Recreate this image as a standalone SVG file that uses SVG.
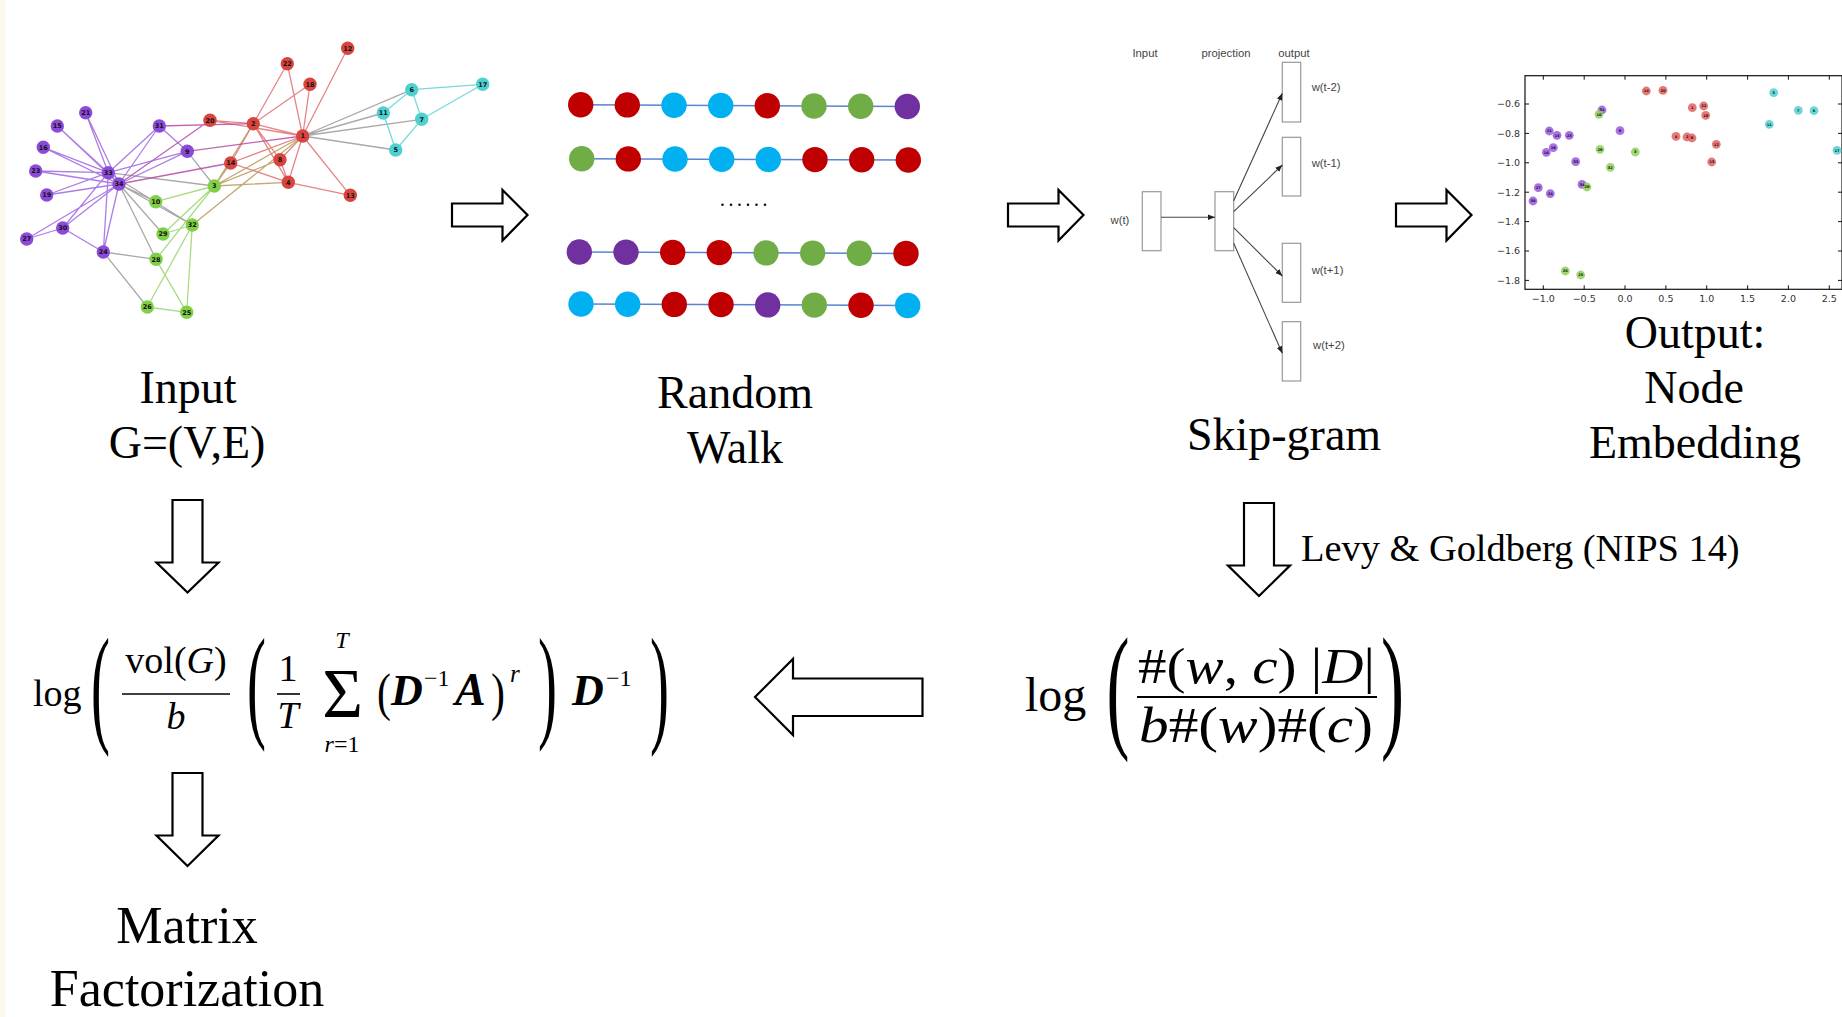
<svg xmlns="http://www.w3.org/2000/svg" width="1842" height="1017" viewBox="0 0 1842 1017">
<defs>
<style>
.serif{font-family:"Liberation Serif","Times New Roman",serif;fill:#000}
.big{font-size:46px;text-anchor:middle}
.blk{fill:#fff;stroke:#000;stroke-width:2.2;stroke-linejoin:miter}
.e{fill:none;stroke-width:1.3;stroke-opacity:0.85}
.er{stroke:#e07070}.eg{stroke:#9a9a9a}.eb{stroke:#b89a5a}.em{stroke:#b64aa5}.ec{stroke:#5fd3d3}.en{stroke:#98d66a}.ep{stroke:#9d66e0}
.kn circle{r:6.7px}
.kl{font-family:"DejaVu Sans",sans-serif;font-size:6.5px;font-weight:bold;text-anchor:middle;fill:#111}
.P{fill:#8c4ad8}.R{fill:#d8453f}.C{fill:#4dd0d0}.G{fill:#7fd047}
.rw{stroke:#5b83d0;stroke-width:1.5}
.wr{fill:#c00000}.wc{fill:#00b0f0}.wg{fill:#70ad47}.wp{fill:#7030a0}
.sg{font-family:"Liberation Sans",Arial,sans-serif;font-size:11.3px;fill:#444}
.box{fill:#fff;stroke:#999;stroke-width:1.2}
.sga{stroke:#444;stroke-width:1.1;fill:none}
.tick{font-family:"DejaVu Sans",sans-serif;font-size:9.5px;fill:#333}
.sp circle{r:4.4px;fill-opacity:0.85}
.spl{font-family:"DejaVu Sans",sans-serif;font-size:3.6px;font-weight:bold;text-anchor:middle;fill:#111}
.SR{fill:#e06060}.SP{fill:#9a58e0}.SG{fill:#8fd05a}.SC{fill:#55d0d0}
.it{font-style:italic}
.bi{font-style:italic;font-weight:bold}
</style>
<marker id="ah" viewBox="0 0 10 10" refX="10" refY="5" markerWidth="7" markerHeight="7" orient="auto" markerUnits="userSpaceOnUse">
<path d="M0,1 L10,5 L0,9 Z" fill="#222"/>
</marker>
</defs>
<rect width="1842" height="1017" fill="#fff"/>
<rect x="0" y="0" width="5" height="1017" fill="#fbf9ee"/>

<!-- Node: Input graph -->
<g id="input-graph">
<g id="graph-edges">
<path class="e er" d="M302.7,136L253.3,123.7M302.7,136L288.3,182.3M302.7,136L280,159.7M302.7,136L347.7,48.3M302.7,136L350.3,195.3M302.7,136L230.7,163M302.7,136L310,84.3M302.7,136L210,120.3M302.7,136L287.3,63.7M253.3,123.7L288.3,182.3M253.3,123.7L280,159.7M253.3,123.7L230.7,163M253.3,123.7L310,84.3M253.3,123.7L210,120.3M253.3,123.7L287.3,63.7M288.3,182.3L280,159.7M288.3,182.3L350.3,195.3M288.3,182.3L230.7,163"/>
<path class="e eg" d="M302.7,136L395.7,150M302.7,136L411.7,89.7M302.7,136L421.7,119.3M302.7,136L383.3,113M214.3,186L187.3,151.3M214.3,186L108.3,172.7M155.7,201.7L119,184M103.3,252L147.3,307M103.3,252L156,259.3M156,259.3L119,184M163,234L119,184M192.3,225L108.3,172.7M192.3,225L119,184"/>
<path class="e eb" d="M302.7,136L214.3,186M302.7,136L192.3,225M253.3,123.7L214.3,186M214.3,186L288.3,182.3M214.3,186L280,159.7M214.3,186L230.7,163"/>
<path class="e em" d="M302.7,136L187.3,151.3M253.3,123.7L159.3,126M230.7,163L119,184M210,120.3L119,184"/>
<path class="e ec" d="M395.7,150L421.7,119.3M395.7,150L383.3,113M411.7,89.7L421.7,119.3M411.7,89.7L383.3,113M411.7,89.7L482.7,84.3M421.7,119.3L482.7,84.3"/>
<path class="e en" d="M214.3,186L155.7,201.7M214.3,186L156,259.3M214.3,186L163,234M186.7,312.3L147.3,307M186.7,312.3L156,259.3M186.7,312.3L192.3,225M147.3,307L192.3,225M163,234L192.3,225"/>
<path class="e ep" d="M187.3,151.3L159.3,126M187.3,151.3L108.3,172.7M187.3,151.3L119,184M57.3,126L108.3,172.7M57.3,126L119,184M43.3,147.3L108.3,172.7M43.3,147.3L119,184M46.7,195L108.3,172.7M46.7,195L119,184M85.7,112.7L108.3,172.7M85.7,112.7L119,184M35.7,171L108.3,172.7M35.7,171L119,184M103.3,252L62.7,228M103.3,252L108.3,172.7M103.3,252L119,184M26.7,239L62.7,228M26.7,239L119,184M62.7,228L108.3,172.7M62.7,228L119,184M159.3,126L108.3,172.7M159.3,126L119,184M108.3,172.7L119,184"/>
</g>
<g class="kn">
<circle class="R" cx="302.7" cy="136"/><circle class="R" cx="253.3" cy="123.7"/><circle class="G" cx="214.3" cy="186"/><circle class="R" cx="288.3" cy="182.3"/><circle class="C" cx="395.7" cy="150"/><circle class="C" cx="411.7" cy="89.7"/><circle class="C" cx="421.7" cy="119.3"/><circle class="R" cx="280" cy="159.7"/><circle class="P" cx="187.3" cy="151.3"/><circle class="G" cx="155.7" cy="201.7"/><circle class="C" cx="383.3" cy="113"/><circle class="R" cx="347.7" cy="48.3"/><circle class="R" cx="350.3" cy="195.3"/><circle class="R" cx="230.7" cy="163"/><circle class="P" cx="57.3" cy="126"/><circle class="P" cx="43.3" cy="147.3"/><circle class="C" cx="482.7" cy="84.3"/><circle class="R" cx="310" cy="84.3"/><circle class="P" cx="46.7" cy="195"/><circle class="R" cx="210" cy="120.3"/><circle class="P" cx="85.7" cy="112.7"/><circle class="R" cx="287.3" cy="63.7"/><circle class="P" cx="35.7" cy="171"/><circle class="P" cx="103.3" cy="252"/><circle class="G" cx="186.7" cy="312.3"/><circle class="G" cx="147.3" cy="307"/><circle class="P" cx="26.7" cy="239"/><circle class="G" cx="156" cy="259.3"/><circle class="G" cx="163" cy="234"/><circle class="P" cx="62.7" cy="228"/><circle class="P" cx="159.3" cy="126"/><circle class="G" cx="192.3" cy="225"/><circle class="P" cx="108.3" cy="172.7"/><circle class="P" cx="119" cy="184"/>
</g>
<g class="kl">
<text x="302.7" y="138.3">1</text><text x="253.3" y="126">2</text><text x="214.3" y="188.3">3</text><text x="288.3" y="184.6">4</text><text x="395.7" y="152.3">5</text><text x="411.7" y="92">6</text><text x="421.7" y="121.6">7</text><text x="280" y="162">8</text><text x="187.3" y="153.6">9</text><text x="155.7" y="204">10</text><text x="383.3" y="115.3">11</text><text x="347.7" y="50.6">12</text><text x="350.3" y="197.6">13</text><text x="230.7" y="165.3">14</text><text x="57.3" y="128.3">15</text><text x="43.3" y="149.6">16</text><text x="482.7" y="86.6">17</text><text x="310" y="86.6">18</text><text x="46.7" y="197.3">19</text><text x="210" y="122.6">20</text><text x="85.7" y="115">21</text><text x="287.3" y="66">22</text><text x="35.7" y="173.3">23</text><text x="103.3" y="254.3">24</text><text x="186.7" y="314.6">25</text><text x="147.3" y="309.3">26</text><text x="26.7" y="241.3">27</text><text x="156" y="261.6">28</text><text x="163" y="236.3">29</text><text x="62.7" y="230.3">30</text><text x="159.3" y="128.3">31</text><text x="192.3" y="227.3">32</text><text x="108.3" y="175">33</text><text x="119" y="186.3">34</text>
</g>
<text class="serif big" x="188" y="403">Input</text>
<text class="serif big" x="187" y="458">G=(V,E)</text>
</g>

<!-- Node: Random walk -->
<g id="random-walk">
<line class="rw" x1="580.7" y1="104.7" x2="907.3" y2="106.5"/>
<line class="rw" x1="581.7" y1="158.7" x2="908.3" y2="160"/>
<line class="rw" x1="579.3" y1="252" x2="906" y2="253.5"/>
<line class="rw" x1="581" y1="304" x2="907.7" y2="305.5"/>
<g>
<circle class="wr" cx="580.7" cy="104.7" r="12.7"/><circle class="wr" cx="627.3" cy="104.9" r="12.7"/><circle class="wc" cx="674" cy="105.2" r="12.7"/><circle class="wc" cx="720.7" cy="105.4" r="12.7"/><circle class="wr" cx="767.3" cy="105.7" r="12.7"/><circle class="wg" cx="814" cy="106" r="12.7"/><circle class="wg" cx="860.7" cy="106.2" r="12.7"/><circle class="wp" cx="907.3" cy="106.5" r="12.7"/>
<circle class="wg" cx="581.7" cy="158.7" r="12.7"/><circle class="wr" cx="628.3" cy="158.9" r="12.7"/><circle class="wc" cx="675" cy="159" r="12.7"/><circle class="wc" cx="721.7" cy="159.2" r="12.7"/><circle class="wc" cx="768.3" cy="159.4" r="12.7"/><circle class="wr" cx="815" cy="159.6" r="12.7"/><circle class="wr" cx="861.7" cy="159.8" r="12.7"/><circle class="wr" cx="908.3" cy="160" r="12.7"/>
<circle class="wp" cx="579.3" cy="252" r="12.7"/><circle class="wp" cx="626" cy="252.2" r="12.7"/><circle class="wr" cx="672.7" cy="252.4" r="12.7"/><circle class="wr" cx="719.3" cy="252.6" r="12.7"/><circle class="wg" cx="766" cy="252.9" r="12.7"/><circle class="wg" cx="812.7" cy="253.1" r="12.7"/><circle class="wg" cx="859.3" cy="253.3" r="12.7"/><circle class="wr" cx="906" cy="253.5" r="12.7"/>
<circle class="wc" cx="581" cy="304" r="12.7"/><circle class="wc" cx="627.7" cy="304.2" r="12.7"/><circle class="wr" cx="674.3" cy="304.4" r="12.7"/><circle class="wr" cx="721" cy="304.6" r="12.7"/><circle class="wp" cx="767.7" cy="304.9" r="12.7"/><circle class="wg" cx="814.3" cy="305.1" r="12.7"/><circle class="wr" cx="861" cy="305.3" r="12.7"/><circle class="wc" cx="907.7" cy="305.5" r="12.7"/>
</g>
<g fill="#111">
<circle cx="722.5" cy="204.7" r="1.3"/><circle cx="731" cy="204.7" r="1.3"/><circle cx="739.5" cy="204.7" r="1.3"/><circle cx="748" cy="204.7" r="1.3"/><circle cx="756.5" cy="204.7" r="1.3"/><circle cx="765" cy="204.7" r="1.3"/>
</g>
<text class="serif big" x="735" y="408">Random</text>
<text class="serif big" x="735" y="463">Walk</text>
</g>

<!-- Node: Skip-gram -->
<g id="skip-gram">
<text class="sg" x="1145" y="56.5" text-anchor="middle">Input</text>
<text class="sg" x="1226" y="56.5" text-anchor="middle">projection</text>
<text class="sg" x="1294" y="56.5" text-anchor="middle">output</text>
<rect class="box" x="1142.3" y="191.7" width="18.7" height="59"/>
<rect class="box" x="1215" y="191.7" width="18.7" height="59"/>
<rect class="box" x="1282.3" y="62.3" width="18.4" height="59.7"/>
<rect class="box" x="1282.3" y="137.3" width="18.4" height="58.7"/>
<rect class="box" x="1282.3" y="243.3" width="18.4" height="59"/>
<rect class="box" x="1282.3" y="321.7" width="18.4" height="59.3"/>
<text class="sg" x="1110.5" y="224">w(t)</text>
<text class="sg" x="1311.7" y="91">w(t-2)</text>
<text class="sg" x="1311.7" y="167">w(t-1)</text>
<text class="sg" x="1311.7" y="274">w(t+1)</text>
<text class="sg" x="1313" y="349">w(t+2)</text>
<g class="sga" marker-end="url(#ah)">
<line x1="1161" y1="217.3" x2="1215" y2="217.3"/>
<line x1="1233.7" y1="200.7" x2="1282.3" y2="93.3"/>
<line x1="1233.7" y1="211.7" x2="1282.3" y2="165"/>
<line x1="1233.7" y1="227.7" x2="1282.3" y2="276"/>
<line x1="1233.7" y1="243.3" x2="1282.3" y2="353.3"/>
</g>
<text class="serif big" x="1284" y="450">Skip-gram</text>
</g>

<!-- Node: Output embedding -->
<g id="output-embedding">
<rect x="1525" y="75.7" width="317" height="213.6" fill="none" stroke="#111" stroke-width="1.2"/>
<g stroke="#111" stroke-width="1">
<path d="M1525,104h4M1525,133.4h4M1525,162.8h4M1525,192.2h4M1525,221.6h4M1525,251h4M1525,280.4h4"/>
<path d="M1842,104h-4M1842,133.4h-4M1842,162.8h-4M1842,192.2h-4M1842,221.6h-4M1842,251h-4M1842,280.4h-4"/>
<path d="M1543.3,289.3v-4M1584.2,289.3v-4M1625,289.3v-4M1665.9,289.3v-4M1706.7,289.3v-4M1747.6,289.3v-4M1788.4,289.3v-4M1829.3,289.3v-4"/>
<path d="M1543.3,75.7v4M1584.2,75.7v4M1625,75.7v4M1665.9,75.7v4M1706.7,75.7v4M1747.6,75.7v4M1788.4,75.7v4M1829.3,75.7v4"/>
</g>
<g class="tick" text-anchor="end">
<text x="1520" y="107.4">−0.6</text><text x="1520" y="136.8">−0.8</text><text x="1520" y="166.2">−1.0</text><text x="1520" y="195.6">−1.2</text><text x="1520" y="225">−1.4</text><text x="1520" y="254.4">−1.6</text><text x="1520" y="283.8">−1.8</text>
</g>
<g class="tick" text-anchor="middle">
<text x="1543.3" y="301.5">−1.0</text><text x="1584.2" y="301.5">−0.5</text><text x="1625" y="301.5">0.0</text><text x="1665.9" y="301.5">0.5</text><text x="1706.7" y="301.5">1.0</text><text x="1747.6" y="301.5">1.5</text><text x="1788.4" y="301.5">2.0</text><text x="1829.3" y="301.5">2.5</text>
</g>
<g class="sp">
<circle class="SR" cx="1646.3" cy="91"/><circle class="SR" cx="1663" cy="90.3"/><circle class="SC" cx="1773.7" cy="92.7"/><circle class="SR" cx="1692.3" cy="107.7"/><circle class="SR" cx="1703.7" cy="106"/><circle class="SR" cx="1705.7" cy="115.3"/><circle class="SP" cx="1602" cy="110"/><circle class="SG" cx="1599" cy="114.3"/><circle class="SC" cx="1798.3" cy="110.3"/><circle class="SC" cx="1814" cy="110.7"/><circle class="SC" cx="1769.3" cy="124.3"/><circle class="SP" cx="1549.3" cy="131"/><circle class="SP" cx="1557" cy="135.3"/><circle class="SP" cx="1569.3" cy="135.3"/><circle class="SP" cx="1620" cy="130.7"/><circle class="SR" cx="1676" cy="136.3"/><circle class="SR" cx="1687" cy="137"/><circle class="SR" cx="1692" cy="138"/><circle class="SR" cx="1716.3" cy="144.3"/><circle class="SP" cx="1553.3" cy="147.7"/><circle class="SP" cx="1546.3" cy="152.3"/><circle class="SG" cx="1600" cy="149.3"/><circle class="SG" cx="1635.3" cy="152"/><circle class="SP" cx="1575.7" cy="161.7"/><circle class="SR" cx="1711.7" cy="162"/><circle class="SC" cx="1837" cy="150.3"/><circle class="SG" cx="1610.3" cy="167.3"/><circle class="SP" cx="1582" cy="184.3"/><circle class="SG" cx="1587" cy="187"/><circle class="SP" cx="1538.3" cy="187.7"/><circle class="SP" cx="1550.3" cy="193.7"/><circle class="SP" cx="1533" cy="201"/><circle class="SG" cx="1565.3" cy="271"/><circle class="SG" cx="1580.7" cy="275"/>
</g>
<g class="spl">
<text x="1646.3" y="92.3">14</text><text x="1663" y="91.6">20</text><text x="1773.7" y="94">5</text><text x="1692.3" y="109">1</text><text x="1703.7" y="107.3">22</text><text x="1705.7" y="116.6">18</text><text x="1602" y="111.3">31</text><text x="1599" y="115.6">10</text><text x="1798.3" y="111.6">7</text><text x="1814" y="112">6</text><text x="1769.3" y="125.6">11</text><text x="1549.3" y="132.3">21</text><text x="1557" y="136.6">15</text><text x="1569.3" y="136.6">23</text><text x="1620" y="132">9</text><text x="1676" y="137.6">4</text><text x="1687" y="138.3">2</text><text x="1692" y="139.3">8</text><text x="1716.3" y="145.6">12</text><text x="1553.3" y="149">19</text><text x="1546.3" y="153.6">16</text><text x="1600" y="150.6">29</text><text x="1635.3" y="153.3">3</text><text x="1575.7" y="163">33</text><text x="1711.7" y="163.3">13</text><text x="1837" y="151.6">17</text><text x="1610.3" y="168.6">32</text><text x="1582" y="185.6">34</text><text x="1587" y="188.3">28</text><text x="1538.3" y="189">27</text><text x="1550.3" y="195">24</text><text x="1533" y="202.3">30</text><text x="1565.3" y="272.3">26</text><text x="1580.7" y="276.3">25</text>
</g>
<text class="serif big" x="1695" y="348">Output:</text>
<text class="serif big" x="1694" y="403">Node</text>
<text class="serif big" x="1695" y="458">Embedding</text>
</g>

<!-- Node: NetMF matrix formula -->
<g id="netmf-formula" class="serif">
<text x="33" y="706" font-size="38">log</text>
<text transform="translate(91,729) scale(1.5,3.46)" font-size="38">(</text>
<text x="176" y="673" font-size="38" text-anchor="middle">vol(<tspan class="it">G</tspan>)</text>
<line x1="122" y1="694" x2="230" y2="694" stroke="#000" stroke-width="1.6"/>
<text class="it" x="176" y="729" font-size="38" text-anchor="middle">b</text>
<text transform="translate(247,725) scale(1.5,3.3)" font-size="38">(</text>
<text x="288" y="681" font-size="38" text-anchor="middle">1</text>
<line x1="277" y1="694" x2="300" y2="694" stroke="#000" stroke-width="1.6"/>
<text class="it" x="288" y="728" font-size="38" text-anchor="middle">T</text>
<text x="342.5" y="717" font-size="70" text-anchor="middle">Σ</text>
<text class="it" x="342" y="648" font-size="24" text-anchor="middle">T</text>
<text x="342" y="752" font-size="24" text-anchor="middle"><tspan class="it">r</tspan>=1</text>
<text transform="translate(377,710) scale(1.1,1.39)" font-size="38">(</text>
<text class="bi" x="391" y="705" font-size="44">D</text>
<text x="424" y="686" font-size="24">−1</text>
<text class="bi" x="455" y="705" font-size="46">A</text>
<text transform="translate(491,710) scale(1.1,1.39)" font-size="38">)</text>
<text class="it" x="510" y="682" font-size="25">r</text>
<text transform="translate(538,725) scale(1.5,3.3)" font-size="38">)</text>
<text class="bi" x="572" y="705" font-size="44">D</text>
<text x="606" y="686" font-size="24">−1</text>
<text transform="translate(650,729) scale(1.5,3.46)" font-size="38">)</text>
</g>

<!-- Node: Levy & Goldberg PMI formula -->
<g id="pmi-formula" class="serif">
<text x="1025" y="711" font-size="48">log</text>
<text transform="translate(1106.5,733) scale(1.5,2.98)" font-size="46">(</text>
<text x="1138" y="683" font-size="50" textLength="237" lengthAdjust="spacingAndGlyphs">#(<tspan class="it">w</tspan>, <tspan class="it">c</tspan>) |<tspan class="it">D</tspan>|</text>
<line x1="1137" y1="697" x2="1377" y2="697" stroke="#000" stroke-width="2"/>
<text x="1139" y="742" font-size="50" textLength="234" lengthAdjust="spacingAndGlyphs"><tspan class="it">b</tspan>#(<tspan class="it">w</tspan>)#(<tspan class="it">c</tspan>)</text>
<text transform="translate(1381,733) scale(1.5,2.98)" font-size="46">)</text>
</g>

<!-- Node: Matrix Factorization -->
<g id="matrix-factorization">
<text class="serif" x="187" y="943" font-size="52" text-anchor="middle">Matrix</text>
<text class="serif" x="187" y="1006" font-size="52" text-anchor="middle">Factorization</text>
</g>

<!-- Connectors -->
<g id="connectors">
<path class="blk" d="M452,203.5H502.5V190L527.5,215L502.5,240.5V226.5H452Z"/>
<path class="blk" d="M1008,203.5H1058.5V190L1083.5,215L1058.5,240.5V226.5H1008Z"/>
<path class="blk" d="M1396,203.5H1446.5V190L1471.5,215L1446.5,240.5V226.5H1396Z"/>
<path class="blk" d="M172.5,500H202.5V562.5H218.5L187.5,592.5L156.5,562.5H172.5Z"/>
<path class="blk" d="M1244,503H1274V565.5H1290L1259,596L1228,565.5H1244Z"/>
<path class="blk" d="M755,697L793,659V678.5H922.5V716H793V735Z"/>
<path class="blk" d="M172.5,773H202.5V835.5H218.5L187.5,866L156.5,835.5H172.5Z"/>
<text class="serif" x="1301" y="561" font-size="38.4">Levy &amp; Goldberg (NIPS 14)</text>
</g>
</svg>
